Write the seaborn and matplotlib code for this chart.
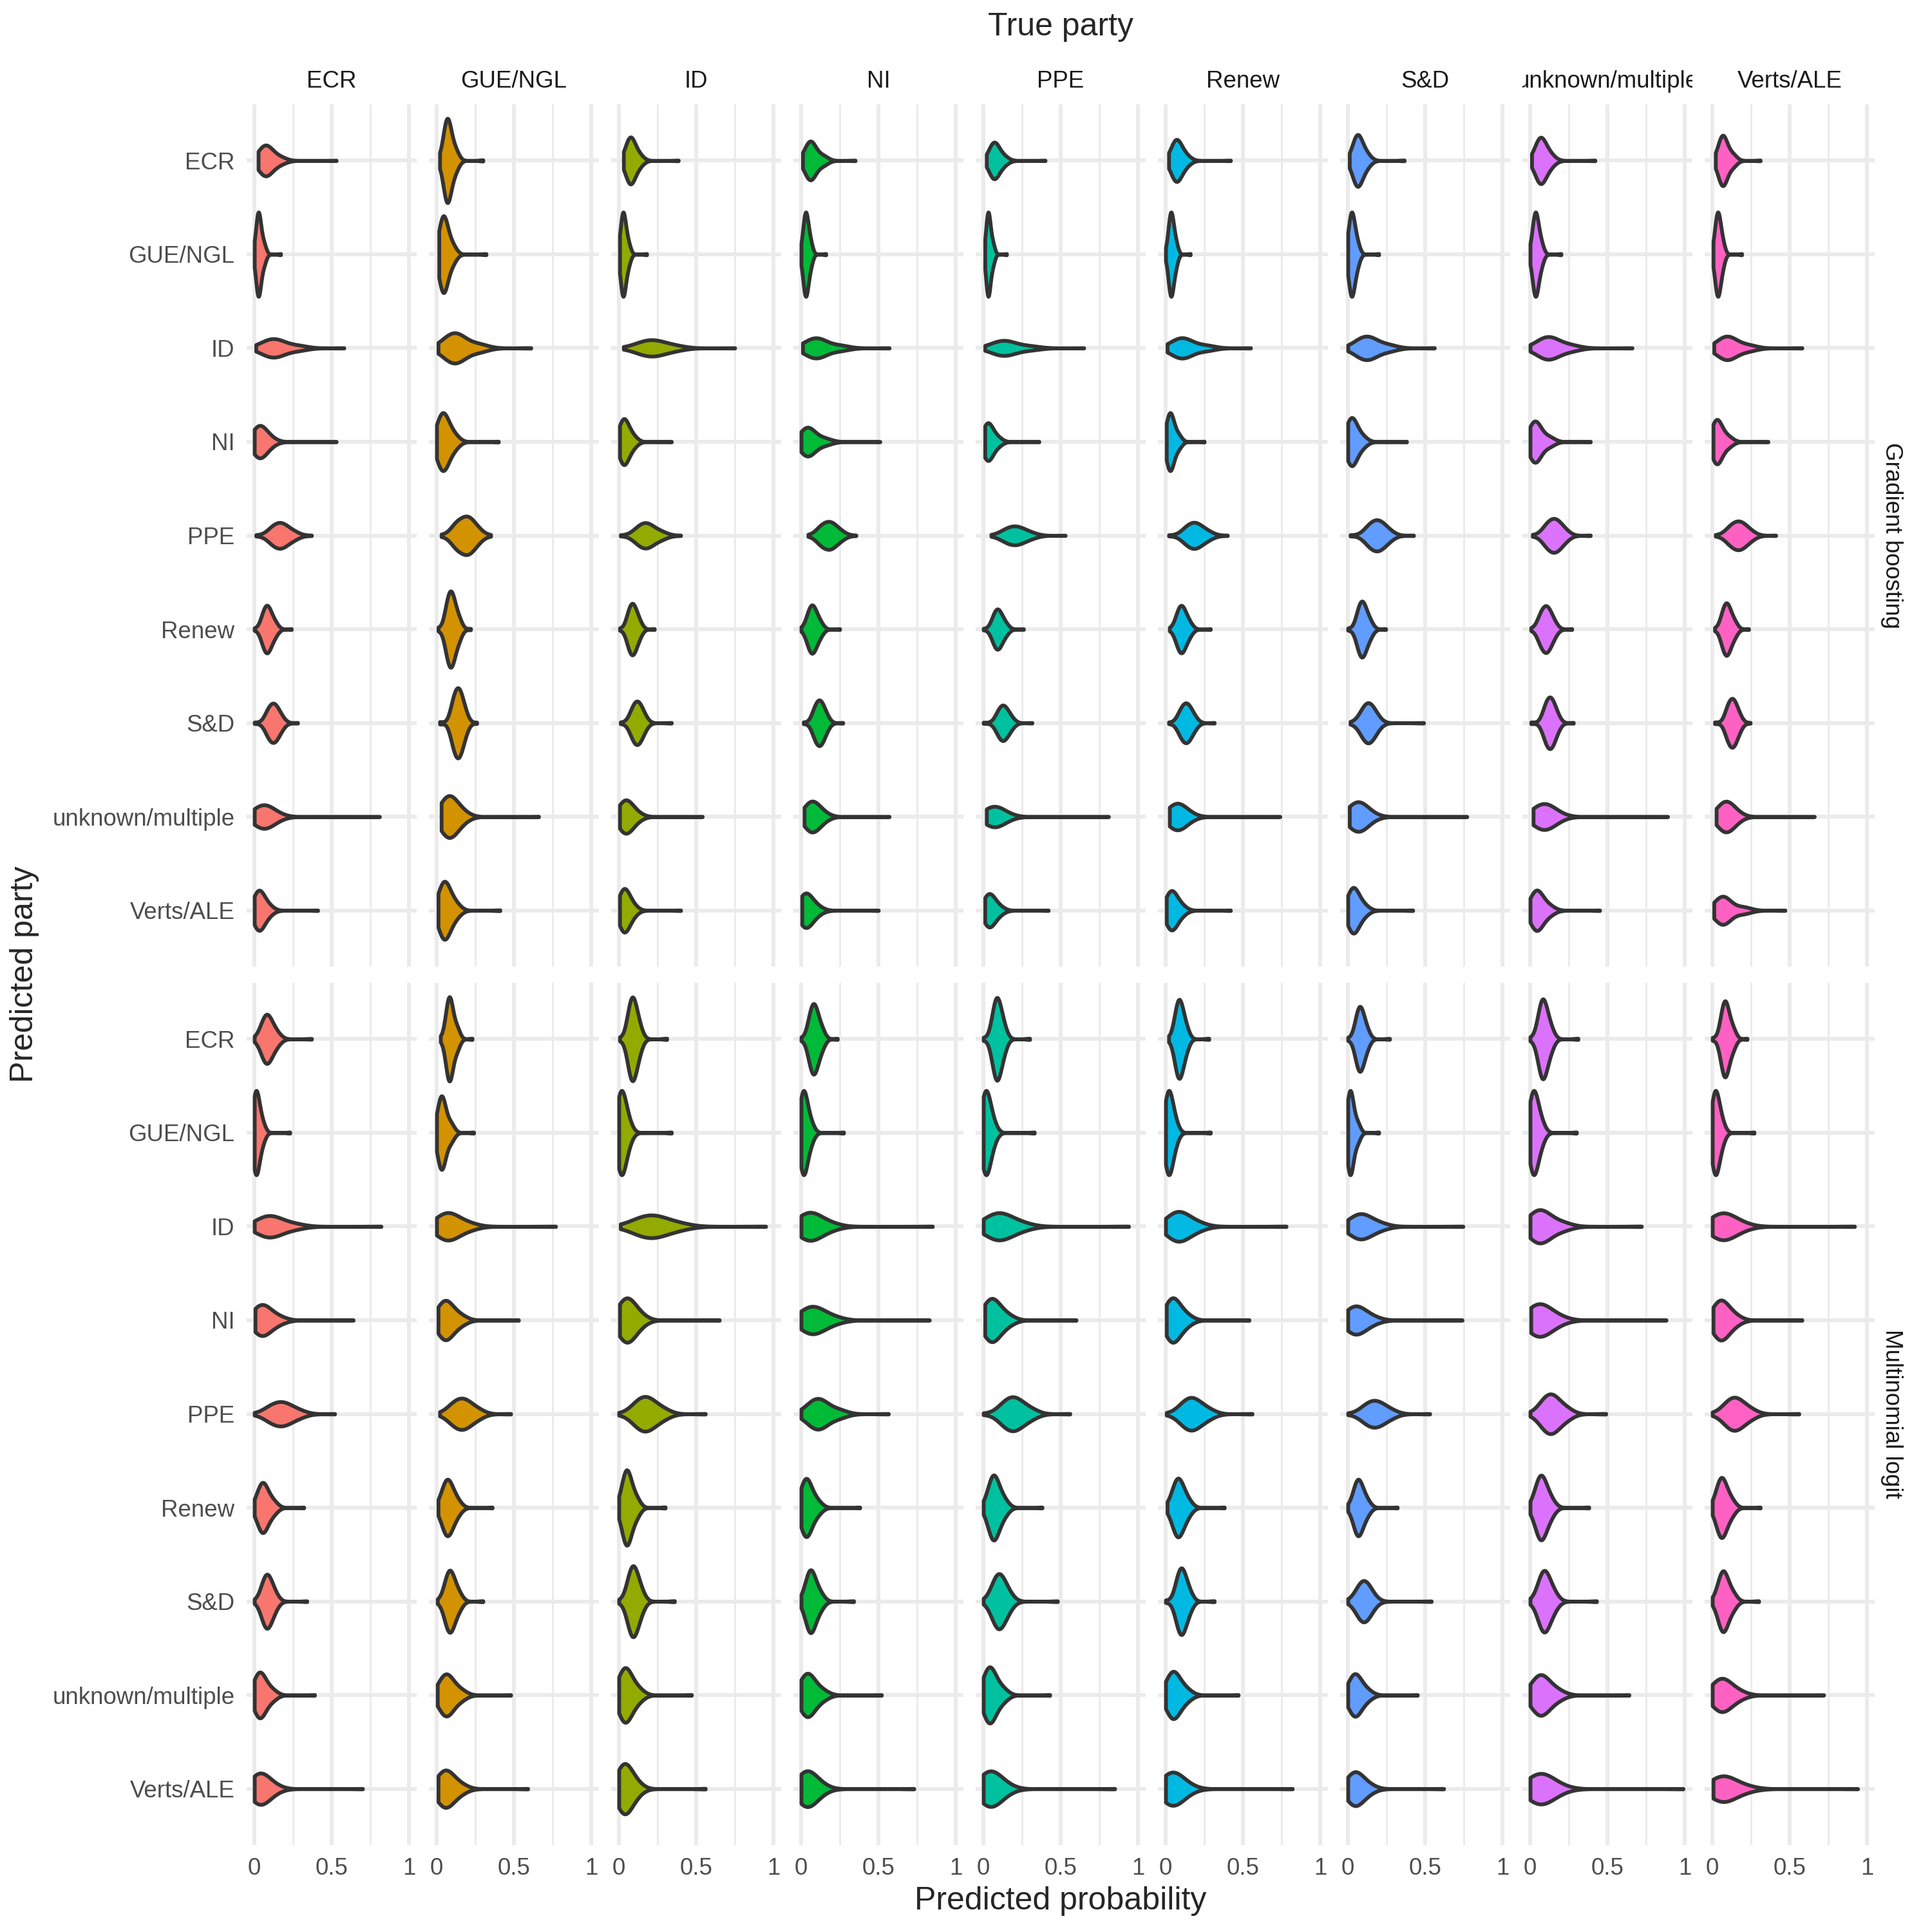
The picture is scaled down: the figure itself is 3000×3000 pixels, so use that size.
import numpy as np
import pandas as pd
import matplotlib.pyplot as plt
import seaborn as sns

parties = ['ECR', 'GUE/NGL', 'ID', 'NI', 'PPE', 'Renew', 'S&D', 'unknown/multiple', 'Verts/ALE']
models = ['Gradient boosting', 'Multinomial logit']
colors = ['#F8766D', '#D39200', '#93AA00', '#00BA38', '#00C19F',
          '#00B9E3', '#619CFF', '#DB72FB', '#FF61C3']

# one violin = (min, lower body, peak, upper body, max)
# one list per predicted party, one tuple per true party (order of `parties`)

# gradient boosting
gb_ecr = [(0.025, 0.06, 0.08, 0.16, 0.53), (0.02, 0.06, 0.075, 0.12, 0.30), (0.03, 0.065, 0.08, 0.13, 0.385),
          (0.01, 0.045, 0.07, 0.14, 0.35), (0.02, 0.06, 0.075, 0.13, 0.40), (0.02, 0.06, 0.075, 0.13, 0.42),
          (0.01, 0.05, 0.07, 0.12, 0.365), (0.01, 0.055, 0.075, 0.13, 0.42), (0.02, 0.055, 0.075, 0.13, 0.31)]
gb_gue = [(0.0, 0.02, 0.03, 0.06, 0.17), (0.015, 0.035, 0.05, 0.10, 0.32), (0.005, 0.02, 0.032, 0.06, 0.18),
          (0.0, 0.02, 0.035, 0.06, 0.16), (0.01, 0.025, 0.035, 0.06, 0.15), (0.0, 0.025, 0.04, 0.065, 0.16),
          (0.0, 0.015, 0.03, 0.06, 0.20), (0.0, 0.025, 0.04, 0.07, 0.20), (0.005, 0.025, 0.04, 0.065, 0.19)]
gb_id = [(0.01, 0.08, 0.15, 0.28, 0.58), (0.01, 0.08, 0.14, 0.27, 0.61), (0.03, 0.15, 0.24, 0.36, 0.75),
         (0.01, 0.06, 0.12, 0.25, 0.57), (0.01, 0.09, 0.16, 0.30, 0.65), (0.01, 0.07, 0.13, 0.26, 0.55),
         (0.0, 0.08, 0.145, 0.26, 0.56), (0.0, 0.08, 0.14, 0.26, 0.66), (0.01, 0.065, 0.115, 0.23, 0.58)]
gb_ni = [(0.0, 0.02, 0.04, 0.10, 0.53), (0.0, 0.025, 0.05, 0.11, 0.40), (0.005, 0.02, 0.04, 0.09, 0.34),
         (0.0, 0.03, 0.05, 0.15, 0.51), (0.01, 0.02, 0.035, 0.09, 0.36), (0.005, 0.02, 0.035, 0.08, 0.25),
         (0.0, 0.015, 0.03, 0.09, 0.38), (0.0, 0.02, 0.04, 0.12, 0.39), (0.005, 0.02, 0.035, 0.10, 0.36)]
gb_ppe = [(0.01, 0.12, 0.18, 0.25, 0.37), (0.03, 0.13, 0.20, 0.26, 0.35), (0.01, 0.13, 0.19, 0.27, 0.40),
          (0.045, 0.13, 0.19, 0.25, 0.355), (0.05, 0.15, 0.22, 0.30, 0.53), (0.02, 0.14, 0.20, 0.27, 0.40),
          (0.015, 0.14, 0.20, 0.26, 0.425), (0.015, 0.11, 0.165, 0.22, 0.39), (0.02, 0.12, 0.18, 0.24, 0.41)]
gb_renew = [(0.0, 0.06, 0.09, 0.13, 0.24), (0.01, 0.07, 0.10, 0.14, 0.22), (0.005, 0.065, 0.095, 0.13, 0.23),
            (0.0, 0.05, 0.08, 0.12, 0.25), (0.0, 0.07, 0.10, 0.14, 0.26), (0.025, 0.08, 0.11, 0.15, 0.29),
            (0.0, 0.07, 0.10, 0.14, 0.245), (0.005, 0.07, 0.11, 0.15, 0.27), (0.015, 0.07, 0.10, 0.14, 0.235)]
gb_sd = [(0.0, 0.09, 0.13, 0.17, 0.28), (0.02, 0.11, 0.145, 0.18, 0.26), (0.01, 0.09, 0.125, 0.16, 0.34),
         (0.015, 0.09, 0.125, 0.16, 0.27), (0.0, 0.10, 0.135, 0.175, 0.315), (0.02, 0.10, 0.14, 0.18, 0.315),
         (0.015, 0.10, 0.14, 0.18, 0.49), (0.005, 0.10, 0.135, 0.17, 0.28), (0.015, 0.10, 0.135, 0.17, 0.245)]
gb_unk = [(0.0, 0.04, 0.065, 0.13, 0.81), (0.03, 0.06, 0.09, 0.16, 0.66), (0.005, 0.03, 0.05, 0.11, 0.54),
          (0.02, 0.05, 0.08, 0.14, 0.57), (0.02, 0.05, 0.075, 0.14, 0.81), (0.025, 0.055, 0.08, 0.14, 0.74),
          (0.01, 0.045, 0.07, 0.13, 0.77), (0.02, 0.065, 0.095, 0.16, 0.89), (0.025, 0.065, 0.095, 0.15, 0.66)]
gb_verts = [(0.0, 0.02, 0.035, 0.09, 0.41), (0.01, 0.035, 0.06, 0.12, 0.41), (0.005, 0.025, 0.04, 0.09, 0.40),
            (0.005, 0.02, 0.035, 0.10, 0.50), (0.01, 0.025, 0.045, 0.10, 0.42), (0.005, 0.025, 0.045, 0.10, 0.42),
            (0.0, 0.025, 0.04, 0.10, 0.42), (0.0, 0.03, 0.05, 0.12, 0.45), (0.01, 0.05, 0.08, 0.20, 0.47)]

# multinomial logit
ml_ecr = [(0.0, 0.06, 0.09, 0.14, 0.37), (0.025, 0.07, 0.09, 0.13, 0.23), (0.005, 0.07, 0.095, 0.13, 0.31),
          (0.0, 0.06, 0.09, 0.13, 0.235), (0.0, 0.07, 0.095, 0.13, 0.30), (0.02, 0.07, 0.095, 0.13, 0.28),
          (0.0, 0.06, 0.085, 0.12, 0.27), (0.0, 0.065, 0.09, 0.13, 0.31), (0.0, 0.065, 0.09, 0.13, 0.225)]
ml_gue = [(0.0, 0.005, 0.015, 0.05, 0.23), (0.0, 0.02, 0.04, 0.09, 0.24), (0.0, 0.008, 0.02, 0.06, 0.34),
          (0.0, 0.008, 0.02, 0.06, 0.275), (0.0, 0.008, 0.02, 0.06, 0.33), (0.0, 0.01, 0.025, 0.06, 0.29),
          (0.0, 0.008, 0.02, 0.06, 0.20), (0.0, 0.01, 0.03, 0.07, 0.30), (0.0, 0.01, 0.025, 0.06, 0.27)]
ml_id = [(0.0, 0.06, 0.12, 0.25, 0.82), (0.0, 0.04, 0.09, 0.20, 0.77), (0.01, 0.14, 0.24, 0.38, 0.95),
         (0.0, 0.03, 0.07, 0.18, 0.85), (0.0, 0.06, 0.12, 0.24, 0.94), (0.0, 0.05, 0.10, 0.20, 0.78),
         (0.0, 0.05, 0.10, 0.20, 0.745), (0.0, 0.035, 0.08, 0.20, 0.72), (0.0, 0.04, 0.08, 0.18, 0.92)]
ml_ni = [(0.005, 0.03, 0.06, 0.15, 0.64), (0.01, 0.035, 0.07, 0.15, 0.53), (0.005, 0.03, 0.06, 0.13, 0.65),
         (0.0, 0.04, 0.09, 0.20, 0.83), (0.01, 0.035, 0.065, 0.15, 0.60), (0.005, 0.03, 0.055, 0.13, 0.54),
         (0.0, 0.03, 0.06, 0.15, 0.74), (0.005, 0.035, 0.07, 0.17, 0.88), (0.005, 0.035, 0.065, 0.14, 0.58)]
ml_ppe = [(0.0, 0.11, 0.19, 0.28, 0.52), (0.02, 0.11, 0.18, 0.26, 0.48), (0.0, 0.12, 0.19, 0.28, 0.56),
          (0.0, 0.07, 0.13, 0.24, 0.565), (0.0, 0.14, 0.21, 0.30, 0.56), (0.005, 0.12, 0.185, 0.27, 0.56),
          (0.0, 0.12, 0.19, 0.27, 0.53), (0.0, 0.09, 0.15, 0.23, 0.49), (0.0, 0.10, 0.16, 0.24, 0.56)]
ml_renew = [(0.0, 0.035, 0.065, 0.12, 0.32), (0.01, 0.05, 0.08, 0.13, 0.36), (0.0, 0.035, 0.06, 0.11, 0.30),
            (0.0, 0.02, 0.04, 0.10, 0.38), (0.0, 0.05, 0.075, 0.13, 0.38), (0.01, 0.06, 0.09, 0.14, 0.38),
            (0.0, 0.05, 0.075, 0.12, 0.32), (0.0, 0.05, 0.08, 0.13, 0.38), (0.0, 0.04, 0.07, 0.12, 0.31)]
ml_sd = [(0.0, 0.06, 0.09, 0.13, 0.34), (0.005, 0.065, 0.095, 0.14, 0.30), (0.0, 0.07, 0.10, 0.14, 0.36),
         (0.0, 0.045, 0.07, 0.12, 0.34), (0.0, 0.075, 0.11, 0.16, 0.48), (0.0, 0.08, 0.11, 0.15, 0.315),
         (0.0, 0.075, 0.11, 0.15, 0.54), (0.0, 0.07, 0.10, 0.15, 0.43), (0.0, 0.05, 0.08, 0.13, 0.30)]
ml_unk = [(0.0, 0.02, 0.045, 0.11, 0.39), (0.005, 0.04, 0.075, 0.15, 0.48), (0.0, 0.025, 0.05, 0.12, 0.47),
          (0.0, 0.025, 0.05, 0.13, 0.52), (0.0, 0.025, 0.05, 0.12, 0.43), (0.0, 0.03, 0.06, 0.13, 0.47),
          (0.0, 0.03, 0.055, 0.12, 0.45), (0.0, 0.045, 0.08, 0.17, 0.64), (0.0, 0.04, 0.07, 0.16, 0.72)]
ml_verts = [(0.0, 0.02, 0.045, 0.12, 0.70), (0.01, 0.035, 0.07, 0.15, 0.59), (0.0, 0.02, 0.045, 0.11, 0.56),
            (0.0, 0.02, 0.045, 0.12, 0.73), (0.0, 0.025, 0.05, 0.13, 0.85), (0.0, 0.025, 0.05, 0.13, 0.82),
            (0.0, 0.03, 0.055, 0.13, 0.62), (0.0, 0.04, 0.075, 0.17, 0.99), (0.005, 0.045, 0.08, 0.20, 0.94)]

# how many observations each of the five read values stands for
weights = [2, 30, 40, 16, 1]

tables = {
    'Gradient boosting': [gb_ecr, gb_gue, gb_id, gb_ni, gb_ppe, gb_renew, gb_sd, gb_unk, gb_verts],
    'Multinomial logit': [ml_ecr, ml_gue, ml_id, ml_ni, ml_ppe, ml_renew, ml_sd, ml_unk, ml_verts],
}

rows = []
for model in models:
    for pred, cells in zip(parties, tables[model]):
        for true, q in zip(parties, cells):
            for v, w in zip(q, weights):
                rows += [(model, true, pred, v)] * w
df = pd.DataFrame(rows, columns=['model', 'true', 'pred', 'prob'])

sns.set_style('white')
plt.rcParams['font.family'] = ['Liberation Sans', 'DejaVu Sans']

W = 3000.0
fig = plt.figure(figsize=(10, 10), dpi=300)

grid_col = '#EBEBEB'
panel_w = 264
col_step = 283
first_left = 383
facet_top = [162, 1526]
facet_h = 1339

for i, model in enumerate(models):
    for j, true in enumerate(parties):
        left = first_left + col_step * j
        ax = fig.add_axes([left / W, 1 - (facet_top[i] + facet_h) / W, panel_w / W, facet_h / W])
        sub = df[(df.model == model) & (df.true == true)]
        sns.violinplot(data=sub, x='prob', y='pred', order=parties, color=colors[j],
                       saturation=1, cut=0, inner=None, density_norm='area', width=0.9,
                       bw_method=0.75, linewidth=1.4, linecolor='#333333', ax=ax)
        ax.set_xlim(-0.05, 1.05)
        ax.set_ylim(8.6, -0.6)
        ax.set_xticks([0, 0.5, 1])
        ax.set_xticklabels(['0', '0.5', '1'])
        ax.set_xticks([0.25, 0.75], minor=True)
        ax.set_yticks(range(len(parties)))
        ax.set_yticklabels(parties)
        ax.grid(which='major', color=grid_col, lw=1.42)
        ax.grid(which='minor', axis='x', color=grid_col, lw=0.71)
        ax.set_axisbelow(True)
        for s in ax.spines.values():
            s.set_visible(False)
        ax.tick_params(which='both', length=0, labelsize=8.8, labelcolor='#4D4D4D', pad=4.5,
                       labelleft=(j == 0), labelbottom=(i == 1))
        ax.set_xlabel('')
        ax.set_ylabel('')

        # column strips on top, clipped to the panel width
        if i == 0:
            sax = fig.add_axes([left / W, 1 - 162 / W, panel_w / W, 72 / W])
            sax.axis('off')
            sax.text(0.5, 0.5, true, ha='center', va='center', fontsize=8.8,
                     color='#1A1A1A', transform=sax.transAxes, clip_on=True)

    fig.text(2937 / W, 1 - (facet_top[i] + facet_h / 2) / W, model, rotation=-90,
             ha='center', va='center', fontsize=8.8, color='#1A1A1A')

fig.text(1647 / W, 1 - 42 / W, 'True party', ha='center', va='center', fontsize=12)
fig.text(1647 / W, 1 - 2952 / W, 'Predicted probability', ha='center', va='center', fontsize=12)
fig.text(38 / W, 1 - 1513 / W, 'Predicted party', ha='center', va='center', fontsize=12, rotation=90)

fig.savefig('out.png', dpi=300, facecolor='white')
